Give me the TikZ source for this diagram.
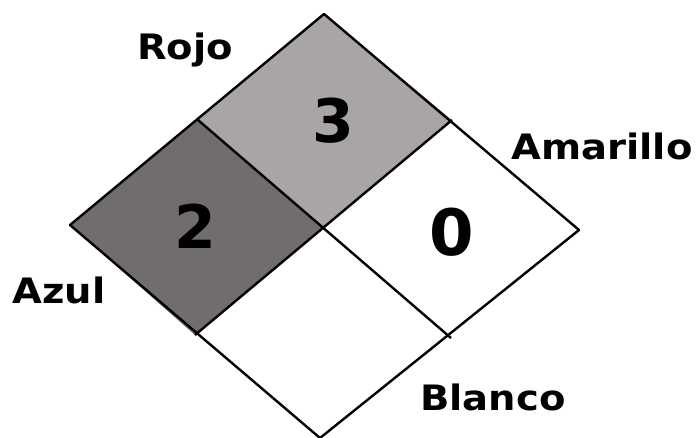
\documentclass[tikz,border=0pt]{standalone}
\usepackage{fontspec}
\newfontfamily\labfont[FakeStretch=1.1]{DejaVu Sans Bold}
\newfontfamily\numfont{DejaVu Sans Bold}
\definecolor{redgray}{RGB}{168,164,168}
\definecolor{bluegray}{RGB}{112,108,112}
\begin{document}
\begin{tikzpicture}[x=1pt,y=-1pt,
  edge/.style={line width=2.4pt,line join=round},
  lab/.style={font=\labfont\fontsize{35}{40}\selectfont,inner sep=0pt},
  num/.style={font=\numfont\fontsize{60}{66}\selectfont,inner sep=0pt}]
\useasboundingbox (0,0) rectangle (698,437);
\coordinate (T) at (324,14);
\coordinate (R) at (579,230);
\coordinate (B) at (320,438);
\coordinate (L) at (70,225);
\coordinate (C) at (322,228);
\coordinate (TL) at (198,120);
\coordinate (TR) at (452,120);
\coordinate (BL) at (195,335);
\coordinate (BR) at (451,338);
\fill[redgray] (T) -- (TR) -- (C) -- (TL) -- cycle;
\fill[bluegray] (TL) -- (C) -- (BL) -- (L) -- cycle;
\draw[edge] (T) -- (R) -- (B) -- (L) -- cycle;
\draw[edge] (TL) -- (BR);
\draw[edge] (TR) -- (BL);
\node[num] (n3) at (333,121) {3};
\node[num] (n2) at (195,226) {2};
\node[num,font=\numfont\fontsize{64}{70}\selectfont] (n0) at (452,232) {0};
\node[lab] (rojo) at (185,50) {Rojo};
\node[lab] (amarillo) at (602,146) {Amarillo};
\node[lab] (azul) at (59,290) {Azul};
\node[lab] (blanco) at (493,397) {Blanco};
\end{tikzpicture}
\end{document}
